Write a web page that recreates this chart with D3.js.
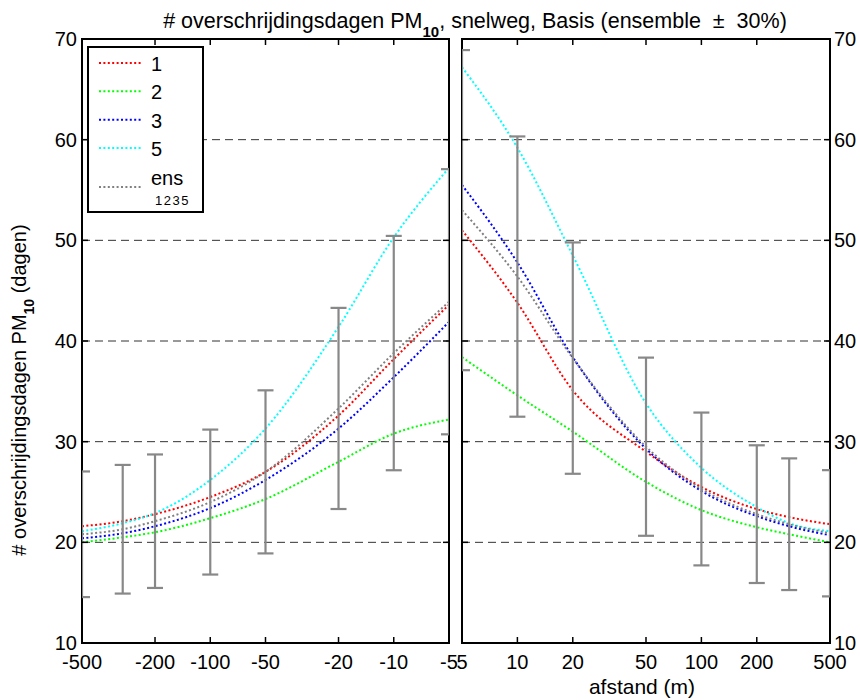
<!DOCTYPE html>
<html>
<head>
<meta charset="utf-8">
<script src="https://cdn.jsdelivr.net/npm/d3@7"></script>
<style>
  body { margin: 0; background: #fff; }
  text { font-family: "Liberation Sans", Arial, sans-serif; fill: #000; }
</style>
</head>
<body>
<div id="chart"></div>
<script>
// distances (m); left panel is upwind (negative), right panel downwind
const leftDist = [-500, -300, -200, -100, -50, -20, -10, -5];
const rightDist = [5, 10, 20, 50, 100, 200, 300, 500];

// # overschrijdingsdagen per model
const left1   = [21.6, 22.1, 22.8, 24.5, 27.0, 32.6, 38.2, 43.6];
const left2   = [20.0, 20.5, 21.0, 22.4, 24.3, 28.0, 30.8, 32.2];
const left3   = [20.4, 20.9, 21.6, 23.4, 26.2, 31.3, 36.4, 41.9];
const left5   = [21.1, 21.9, 22.9, 26.2, 31.3, 41.4, 50.3, 57.2];
const leftEns = [20.8, 21.3, 22.1, 24.0, 27.0, 33.3, 38.8, 43.9];

const right1   = [51.0, 43.8, 35.1, 29.0, 25.5, 23.3, 22.5, 21.8];
const right2   = [38.4, 34.6, 31.0, 26.0, 23.2, 21.5, 20.8, 20.0];
const right3   = [55.5, 47.8, 38.4, 29.3, 25.1, 22.6, 21.6, 20.7];
const right5   = [67.2, 59.2, 48.5, 33.8, 27.4, 23.5, 21.9, 21.1];
const rightEns = [53.0, 46.4, 38.3, 29.5, 25.3, 22.8, 21.8, 20.9];

const spread = 0.30; // ensemble +/- 30%

const seriesNames = ['1', '2', '3', '5', 'ens'];
const seriesColors = ['#ff0000', '#00ff00', '#0000ff', '#00ffff', '#808080'];

const leftTicks = [-500, -200, -100, -50, -20, -10, -5];
const rightTicks = [5, 10, 20, 50, 100, 200, 500];
const yTicks = [10, 20, 30, 40, 50, 60, 70];
const gridTicks = [20, 30, 40, 50, 60];

const width = 860, height = 700;
const plotTop = 39, plotBottom = 643;

const svg = d3.select('#chart').append('svg')
  .attr('width', width)
  .attr('height', height);

const y = d3.scaleLinear().domain([10, 70]).range([plotBottom, plotTop]);

const panels = [
  { id: 'left', x0: 82, x1: 449, dist: leftDist, ticks: leftTicks,
    values: [left1, left2, left3, left5, leftEns],
    scale: d3.scaleLog().domain([500, 5]).range([82, 449]), sign: -1 },
  { id: 'right', x0: 462, x1: 830, dist: rightDist, ticks: rightTicks,
    values: [right1, right2, right3, right5, rightEns],
    scale: d3.scaleLog().domain([5, 500]).range([462, 830]), sign: 1 }
];

panels.forEach(p => {
  const xp = d => p.scale(p.sign * d);

  svg.append('clipPath').attr('id', 'clip-' + p.id)
    .append('rect')
    .attr('x', p.x0).attr('y', plotTop)
    .attr('width', p.x1 - p.x0).attr('height', plotBottom - plotTop);

  const g = svg.append('g');

  // box
  g.append('rect')
    .attr('x', p.x0).attr('y', plotTop)
    .attr('width', p.x1 - p.x0).attr('height', plotBottom - plotTop)
    .attr('fill', 'none')
    .attr('stroke', '#000')
    .attr('stroke-width', 2);

  const plot = g.append('g').attr('clip-path', `url(#clip-${p.id})`);

  // dashed grid
  plot.selectAll('.grid')
    .data(gridTicks)
    .enter().append('line')
      .attr('x1', p.x0).attr('x2', p.x1)
      .attr('y1', d => y(d)).attr('y2', d => y(d))
      .attr('stroke', '#333')
      .attr('stroke-width', 1)
      .attr('stroke-dasharray', '8,5');

  // model lines
  const line = d3.line()
    .x((d, i) => xp(p.dist[i]))
    .y(d => y(d))
    .curve(d3.curveMonotoneX);

  plot.selectAll('.series')
    .data(p.values)
    .enter().append('path')
      .attr('d', line)
      .attr('fill', 'none')
      .attr('stroke', (d, i) => seriesColors[i])
      .attr('stroke-width', 2)
      .attr('stroke-dasharray', '2,2.4');

  // error bars on ensemble
  const ens = p.values[4];
  const bars = plot.selectAll('.bar')
    .data(p.dist.map((d, i) => ({ d, hi: ens[i] * (1 + spread), lo: ens[i] * (1 - spread) })))
    .enter().append('g')
      .attr('stroke', '#888')
      .attr('stroke-width', 2.2);
  bars.append('line')
    .attr('x1', b => xp(b.d)).attr('x2', b => xp(b.d))
    .attr('y1', b => y(b.hi)).attr('y2', b => y(b.lo));
  bars.append('line')
    .attr('x1', b => xp(b.d) - 8).attr('x2', b => xp(b.d) + 8)
    .attr('y1', b => y(b.hi)).attr('y2', b => y(b.hi));
  bars.append('line')
    .attr('x1', b => xp(b.d) - 8).attr('x2', b => xp(b.d) + 8)
    .attr('y1', b => y(b.lo)).attr('y2', b => y(b.lo));

  // ticks (inward, all four sides)
  const tk = g.append('g').attr('stroke', '#000').attr('stroke-width', 1.5);
  p.ticks.forEach(t => {
    const xx = xp(t);
    tk.append('line').attr('x1', xx).attr('x2', xx).attr('y1', plotBottom).attr('y2', plotBottom - 6);
    tk.append('line').attr('x1', xx).attr('x2', xx).attr('y1', plotTop).attr('y2', plotTop + 6);
  });
  yTicks.forEach(t => {
    tk.append('line').attr('x1', p.x0).attr('x2', p.x0 + 6).attr('y1', y(t)).attr('y2', y(t));
    tk.append('line').attr('x1', p.x1).attr('x2', p.x1 - 6).attr('y1', y(t)).attr('y2', y(t));
  });

  // x tick labels
  g.selectAll('.xlab')
    .data(p.ticks)
    .enter().append('text')
      .attr('x', d => xp(d))
      .attr('y', 669)
      .attr('text-anchor', 'middle')
      .style('font-size', '20px')
      .text(d => d);
});

// y tick labels, left and right
svg.selectAll('.ylabL')
  .data(yTicks)
  .enter().append('text')
    .attr('x', 77)
    .attr('y', d => y(d) + 7)
    .attr('text-anchor', 'end')
    .style('font-size', '20px')
    .text(d => d);
svg.selectAll('.ylabR')
  .data(yTicks)
  .enter().append('text')
    .attr('x', 834)
    .attr('y', d => y(d) + 7)
    .attr('text-anchor', 'start')
    .style('font-size', '20px')
    .text(d => d);

// title
const title = svg.append('text')
  .attr('x', 475)
  .attr('y', 28)
  .attr('text-anchor', 'middle')
  .style('font-size', '21.5px');
title.append('tspan').text('# overschrijdingsdagen PM');
title.append('tspan').attr('dy', 9).style('font-size', '15px').style('font-weight', 'bold').text('10');
title.append('tspan').attr('dy', -9).text(', snelweg, Basis (ensemble \u00a0\u00b1\u00a0 30%)');

// y axis label
const ylab = svg.append('text')
  .attr('transform', 'translate(26,390) rotate(-90)')
  .attr('text-anchor', 'middle')
  .style('font-size', '20px');
ylab.append('tspan').text('# overschrijdingsdagen PM');
ylab.append('tspan').attr('dy', 8).style('font-size', '14px').style('font-weight', 'bold').text('10');
ylab.append('tspan').attr('dy', -8).text(' (dagen)');

// x axis label
svg.append('text')
  .attr('x', 642)
  .attr('y', 694)
  .attr('text-anchor', 'middle')
  .style('font-size', '21px')
  .text('afstand (m)');

// legend
const legend = svg.append('g');
legend.append('rect')
  .attr('x', 88).attr('y', 47)
  .attr('width', 115).attr('height', 165)
  .attr('fill', '#fff')
  .attr('stroke', '#000')
  .attr('stroke-width', 2);

const legendY = d3.scalePoint().domain(seriesNames.slice(0, 4)).range([63, 148]);
seriesNames.forEach((name, i) => {
  const ly = i < 4 ? legendY(name) : 187;
  legend.append('line')
    .attr('x1', 99).attr('x2', 143)
    .attr('y1', ly).attr('y2', ly)
    .attr('stroke', seriesColors[i])
    .attr('stroke-width', 2)
    .attr('stroke-dasharray', '2,2.4');
  if (i < 4) {
    legend.append('text')
      .attr('x', 151).attr('y', ly + 8)
      .style('font-size', '20px')
      .text(name);
  } else {
    legend.append('text')
      .attr('x', 151).attr('y', 185)
      .style('font-size', '20px')
      .text('ens');
    legend.append('text')
      .attr('x', 155).attr('y', 205)
      .style('font-size', '13px')
      .style('letter-spacing', '1.5px')
      .text('1235');
  }
});
</script>
</body>
</html>
